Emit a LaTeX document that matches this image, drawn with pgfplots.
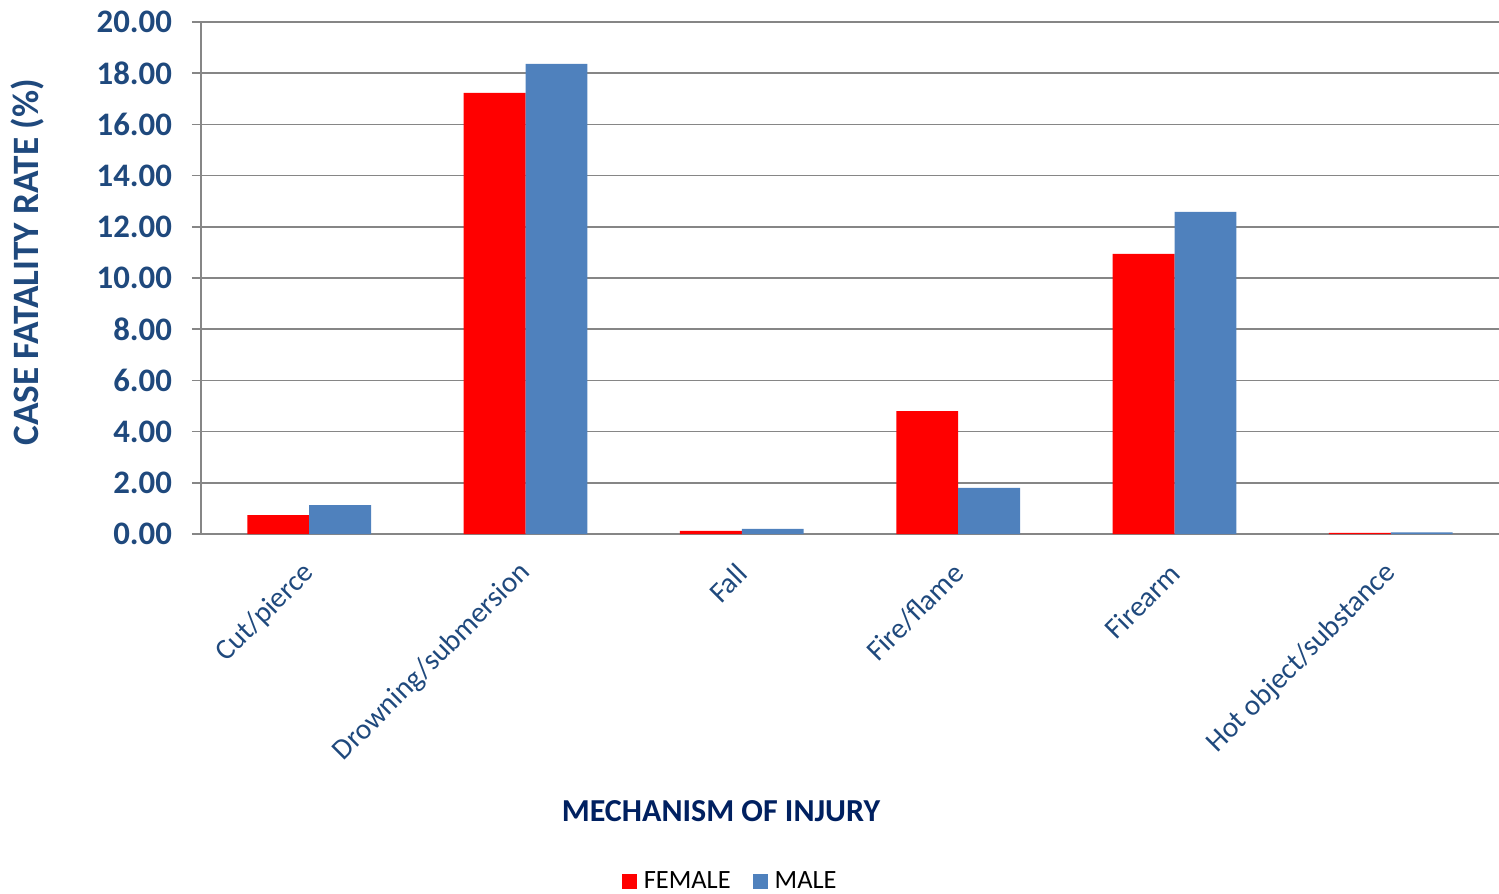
\documentclass[border=0pt]{standalone}
\usepackage{fontspec}
\setmainfont{Carlito}
\usepackage{pgfplots}
\pgfplotsset{compat=1.18}

\definecolor{barred}{RGB}{255,0,0}
\definecolor{barblue}{RGB}{79,129,189}
\definecolor{ticknavy}{RGB}{31,73,125}
\definecolor{titlenavy}{RGB}{0,32,96}
\definecolor{gridgray}{RGB}{134,134,134}

\begin{document}
\begin{tikzpicture}
\path[use as bounding box] (-100.5pt,-180pt) rectangle (649pt,267pt);
\begin{axis}[
  at={(0,0)}, anchor=south west,
  scale only axis,
  width=649pt, height=256pt,
  ybar=0pt, bar width=0.286,
  xmin=-0.5, xmax=5.5,
  ymin=0, ymax=20,
  ytick={0,2,...,20},
  xtick={0,...,5},
  xticklabels={Cut/pierce,Drowning/submersion,Fall,Fire/flame,Firearm,Hot object/substance},
  major x tick style={draw=none},
  extra x ticks={-0.5,0.5,1.5,2.5,3.5,4.5},
  extra x tick labels={},
  extra x tick style={grid=none, major tick length=5pt, tick style={draw=gridgray, line width=1pt}},
  axis lines*=left,
  axis line style={draw=gridgray, line width=1pt, -},
  ymajorgrids,
  y grid style={draw=gridgray, line width=0.8pt},
  tick align=outside,
  major tick length=4.5pt,
  ytick style={draw=gridgray, line width=0.8pt},
  /pgf/number format/assume math mode=true,
  yticklabel style={font=\bfseries\fontsize{16.4}{16.4}\selectfont, text=ticknavy, xshift=-6.5pt,
    /pgf/number format/.cd, fixed, fixed zerofill, precision=2},
  xticklabel style={font=\fontsize{14.6}{14.6}\selectfont, text=ticknavy,
    rotate=45, anchor=east, xshift=-5.4pt, yshift=-9.2pt},
  xlabel={MECHANISM OF INJURY},
  xlabel style={at={(axis description cs:0.4006,-0.541)}, anchor=center,
    font=\bfseries\fontsize{16}{16}\selectfont, text=titlenavy},
  ylabel={CASE FATALITY RATE (\%)},
  ylabel style={at={(axis description cs:-0.134,0.531)}, anchor=center,
    font=\bfseries\fontsize{18.6}{18.6}\selectfont, text=ticknavy},
  legend style={at={(axis description cs:0.4085,-0.678)}, anchor=center,
    draw=none, fill=none, legend columns=2,
    font=\fontsize{13.2}{13.2}\selectfont,
    /tikz/every even column/.append style={column sep=9pt}},
  legend image code/.code={\fill[#1] (0pt,-3.7pt) rectangle (7.5pt,3.7pt);
    \path (9pt,0pt);},
]
\addplot[fill=barred, draw=none] coordinates {
(0,0.74) (1,17.23) (2,0.12) (3,4.80) (4,10.94) (5,0.04)};
\addlegendentry{FEMALE}
\addplot[fill=barblue, draw=none] coordinates {
(0,1.13) (1,18.36) (2,0.20) (3,1.80) (4,12.58) (5,0.06)};
\addlegendentry{MALE}
\end{axis}
\end{tikzpicture}
\end{document}
